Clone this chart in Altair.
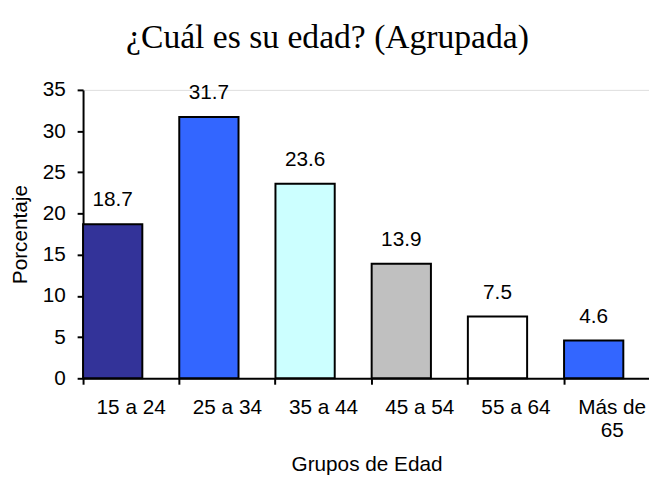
import altair as alt
import pandas as pd

categories = ["15 a 24", "25 a 34", "35 a 44", "45 a 54", "55 a 64", "Más de 65"]
values = [18.7, 31.7, 23.6, 13.9, 7.5, 4.6]
colors = ["#333399", "#3366FF", "#CCFFFF", "#C0C0C0", "#FFFFFF", "#3366FF"]
y_ticks = [0, 5, 10, 15, 20, 25, 30, 35]

df = pd.DataFrame({"grupo": categories, "pct": values, "color": colors})

BAND = 97.4
BAR_W = 60
OFF = BAR_W / 2 - BAND / 2
FS = 21

x_enc = alt.X(
    "grupo:N",
    sort=categories,
    scale=alt.Scale(domain=categories, range=[0, BAND * 6], paddingInner=0, paddingOuter=0),
    axis=alt.Axis(
        title="Grupos de Edad",
        bandPosition=0,
        labelAngle=0,
        labelAlign="center",
        labelBaseline="top",
        labelPadding=13,
        labelExpr="datum.label == 'Más de 65' ? ['Más de', '65'] : datum.label",
        labelFontSize=FS,
        labelLineHeight=23,
        titleFontSize=FS,
        titleFontWeight="normal",
        titleBaseline="alphabetic",
        titleX=287,
        titleY=93,
        tickSize=6,
        tickWidth=2,
        domainWidth=2,
        domainColor="black",
        tickColor="black",
        labelColor="black",
        titleColor="black",
        grid=False,
        labelFont="Liberation Sans",
        titleFont="Liberation Sans",
    ),
)

y_enc = alt.Y(
    "pct:Q",
    scale=alt.Scale(domain=[0, 35], nice=False),
    axis=alt.Axis(
        title="Porcentaje",
        values=y_ticks,
        labelFontSize=FS,
        titleFontSize=FS,
        titleFontWeight="normal",
        titleBaseline="alphabetic",
        titleX=-57,
        titleY=146,
        titleAngle=270,
        labelPadding=12,
        tickSize=6,
        tickWidth=2,
        domainWidth=2,
        domainColor="black",
        tickColor="black",
        labelColor="black",
        titleColor="black",
        grid=False,
        labelFont="Liberation Sans",
        titleFont="Liberation Sans",
    ),
)

bars = alt.Chart(df).mark_bar(
    width=BAR_W, xOffset=OFF, stroke="black", strokeWidth=2
).encode(
    x=x_enc,
    y=y_enc,
    color=alt.Color("color:N", scale=None),
)

labels = alt.Chart(df).mark_text(
    xOffset=OFF, dy=-18, baseline="alphabetic", fontSize=FS,
    font="Liberation Sans", color="black"
).encode(
    x=alt.X("grupo:N", sort=categories),
    y="pct:Q",
    text=alt.Text("pct:Q", format=".1f"),
)

chart = (
    alt.layer(bars, labels)
    .properties(
        width=573,
        height=292,
        padding={"left": 76, "top": 80, "right": 0, "bottom": 95},
        autosize=alt.AutoSizeParams(type="none"),
        title=alt.TitleParams(
            "¿Cuál es su edad? (Agrupada)",
            font="Liberation Serif",
            fontSize=34,
            fontWeight="normal",
            color="black",
            anchor="middle",
            dx=-39,
            offset=24,
        ),
    )
    .configure_view(stroke=None)
    .configure(background="white")
)

chart.save("out.html", embed_options={"renderer": "svg", "actions": False})
